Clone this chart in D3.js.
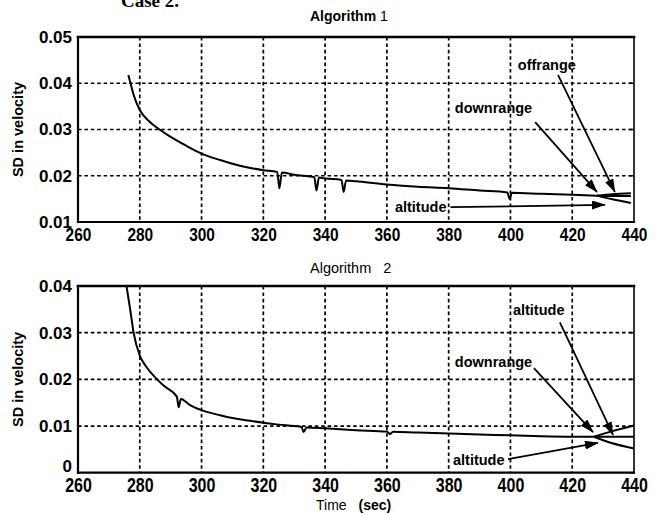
<!DOCTYPE html>
<html>
<head>
<meta charset="utf-8">
<script src="https://cdn.jsdelivr.net/npm/d3@7"></script>
<style>
  body { margin: 0; background: #fff; }
  svg { display: block; }
</style>
</head>
<body>
<svg id="chart" width="660" height="514"></svg>
<script>
// ---- tick values ----
const timeTicks = [260, 280, 300, 320, 340, 360, 380, 400, 420, 440];
const alg1Ticks = [0.01, 0.02, 0.03, 0.04, 0.05];
const alg2Ticks = [0, 0.01, 0.02, 0.03, 0.04];

// ---- Algorithm 1: common SD trace (sec, SD) ----
const alg1Time = [276.3, 277, 278, 280, 283, 286.4, 290, 295, 300, 306, 310, 315, 320,
  324.5, 325.2, 326, 330, 336.5, 337.2, 338, 340, 345.3, 346, 346.8, 350, 360, 370,
  380, 390, 399, 399.7, 400.5, 410, 420, 428];
const alg1Sd = [0.0418, 0.0400, 0.0375, 0.0342, 0.0318, 0.0300, 0.0284, 0.0265, 0.0248,
  0.0234, 0.0226, 0.0218, 0.0212, 0.0208, 0.0173, 0.0207, 0.0202, 0.0197, 0.0168,
  0.0196, 0.0194, 0.0191, 0.0165, 0.0190, 0.0188, 0.0181, 0.0176, 0.0173, 0.0168,
  0.0164, 0.0150, 0.0163, 0.0161, 0.0159, 0.0157];
// Algorithm 1: channels separating at the end
const alg1TailTime = [428, 433, 439];
const alg1Offrange = [0.0157, 0.0160, 0.0162];
const alg1Downrange = [0.0157, 0.0156, 0.0156];
const alg1Altitude = [0.0157, 0.0149, 0.0141];

// ---- Algorithm 2: common SD trace ----
const alg2Time = [275.7, 277, 278, 280, 282, 285.6, 288, 292, 292.6, 293.3, 296, 300, 306,
  310, 315, 320, 325, 330, 332.4, 333, 334, 340, 350, 360, 361, 362, 370, 380, 390,
  400, 410, 420, 427];
const alg2Sd = [0.0400, 0.0345, 0.0300, 0.0251, 0.0228, 0.0200, 0.0185, 0.0163, 0.0140,
  0.0158, 0.0146, 0.0134, 0.0123, 0.0117, 0.0112, 0.0107, 0.0103, 0.0100, 0.0098,
  0.0087, 0.0097, 0.0095, 0.0091, 0.0088, 0.0083, 0.0088, 0.0086, 0.0084, 0.0082,
  0.0080, 0.0078, 0.0077, 0.0077];
// Algorithm 2: channels separating at the end
const alg2TailTime = [427, 433, 440];
const alg2Upper = [0.0077, 0.0089, 0.0101];
const alg2Middle = [0.0077, 0.0077, 0.0077];
const alg2Lower = [0.0077, 0.0063, 0.0052];

// ---- annotation labels (text anchor and arrow, in data units) ----
const alg1Notes = [
  { label: "offrange",  tx: 402.4, tv: 0.0439, x1: 415.4, v1: 0.0418, x2: 433.8, v2: 0.0165 },
  { label: "downrange", tx: 382.0, tv: 0.0347, x1: 408.0, v1: 0.0316, x2: 428.0, v2: 0.0165 },
  { label: "altitude",  tx: 362.6, tv: 0.0132, x1: 380.6, v1: 0.0132, x2: 430.6, v2: 0.0137 }
];
const alg2Notes = [
  { label: "altitude",  tx: 400.8, tv: 0.0348, x1: 416.0, v1: 0.0322, x2: 433.2, v2: 0.0081 },
  { label: "downrange", tx: 382.0, tv: 0.0237, x1: 407.6, v1: 0.0224, x2: 426.7, v2: 0.0087 },
  { label: "altitude",  tx: 381.4, tv: 0.0027, x1: 399.2, v1: 0.0029, x2: 428.3, v2: 0.0064 }
];

const svg = d3.select("#chart");
const SANS = "'Liberation Sans', Arial, sans-serif";

// arrowhead
svg.append("defs").append("marker")
  .attr("id", "head")
  .attr("markerUnits", "userSpaceOnUse")
  .attr("markerWidth", 14).attr("markerHeight", 9)
  .attr("refX", 13).attr("refY", 4.5)
  .attr("orient", "auto")
  .append("path").attr("d", "M0,0 L14,4.5 L0,9 Z").attr("fill", "#000");

// heading running off the top edge
svg.append("text")
  .attr("x", 121).attr("y", 7)
  .attr("font-family", "'Liberation Serif', 'Times New Roman', serif")
  .attr("font-weight", "bold").attr("font-size", 19)
  .text("Case 2.");

function drawPanel(cfg) {
  const x = d3.scaleLinear().domain([260, 440]).range([78, 634]);
  const y = d3.scaleLinear().domain(cfg.domain).range([cfg.bottom, cfg.top]);
  const g = svg.append("g");

  // dotted grid
  g.append("g").selectAll("line").data(timeTicks.slice(1, -1)).join("line")
    .attr("x1", d => x(d)).attr("x2", d => x(d))
    .attr("y1", cfg.top).attr("y2", cfg.bottom)
    .attr("stroke", "#000").attr("stroke-width", 1.7)
    .attr("stroke-dasharray", "3.6,2.8");
  g.append("g").selectAll("line").data(cfg.ticks.slice(1, -1)).join("line")
    .attr("x1", x(260)).attr("x2", x(440))
    .attr("y1", d => y(d)).attr("y2", d => y(d))
    .attr("stroke", "#000").attr("stroke-width", 1.7)
    .attr("stroke-dasharray", "3.6,2.8");

  // axes
  const xAxis = g.append("g")
    .attr("transform", `translate(0,${cfg.bottom})`)
    .call(d3.axisBottom(x).tickValues(timeTicks).tickSize(0).tickPadding(cfg.xPad));
  xAxis.select(".domain").remove();
  xAxis.selectAll("text")
    .attr("font-family", SANS).attr("font-weight", "bold")
    .attr("font-size", cfg.xFont).attr("fill", "#000")
    .attr("transform", `scale(${cfg.xSquash},1)`);

  const yAxis = g.append("g")
    .attr("transform", `translate(${x(260)},0)`)
    .call(d3.axisLeft(y).tickValues(cfg.ticks).tickSize(0).tickPadding(6)
      .tickFormat(d => d === 0 ? "0" : d3.format(".2f")(d)));
  yAxis.select(".domain").remove();
  yAxis.selectAll("text")
    .attr("font-family", SANS).attr("font-weight", "bold")
    .attr("font-size", 17).attr("fill", "#000")
    .attr("dy", d => d === 0 ? "-0.05em" : "0.32em");

  // small inward ticks along the right edge
  g.append("g").selectAll("line").data(cfg.ticks).join("line")
    .attr("x1", x(440) - 5).attr("x2", x(440))
    .attr("y1", d => y(d)).attr("y2", d => y(d))
    .attr("stroke", "#000").attr("stroke-width", 1.5);

  // frame
  const fr = [
    [x(260), cfg.top, x(440), cfg.top, 2.6],
    [x(260), cfg.bottom, x(440), cfg.bottom, 2.2],
    [x(260), cfg.top, x(260), cfg.bottom, 2.2],
    [x(440), cfg.top, x(440), cfg.bottom, 1.6]
  ];
  g.append("g").selectAll("line").data(fr).join("line")
    .attr("x1", d => d[0]).attr("y1", d => d[1])
    .attr("x2", d => d[2]).attr("y2", d => d[3])
    .attr("stroke", "#000").attr("stroke-width", d => d[4])
    .attr("stroke-linecap", "square");

  // traces
  const line = d3.line().x(d => x(d[0])).y(d => y(d[1])).curve(d3.curveMonotoneX);
  const traces = [d3.zip(cfg.time, cfg.sd)]
    .concat(cfg.tails.map(t => d3.zip(cfg.tailTime, t)));
  g.append("g").selectAll("path").data(traces).join("path")
    .attr("d", line)
    .attr("fill", "none").attr("stroke", "#000")
    .attr("stroke-width", 2).attr("stroke-linejoin", "round");

  // annotations
  const notes = g.append("g");
  notes.selectAll("line").data(cfg.notes).join("line")
    .attr("x1", d => x(d.x1)).attr("y1", d => y(d.v1))
    .attr("x2", d => x(d.x2)).attr("y2", d => y(d.v2))
    .attr("stroke", "#000").attr("stroke-width", 1.8)
    .attr("marker-end", "url(#head)");
  notes.selectAll("text").data(cfg.notes).join("text")
    .attr("x", d => x(d.tx)).attr("y", d => y(d.tv))
    .attr("dy", "0.35em")
    .attr("font-family", SANS).attr("font-weight", "bold").attr("font-size", 14.5)
    .text(d => d.label);

  // y label
  svg.append("text")
    .attr("transform", `translate(23,${(cfg.top + cfg.bottom) / 2}) rotate(-90)`)
    .attr("text-anchor", "middle")
    .attr("font-family", SANS).attr("font-weight", "bold").attr("font-size", 14.5)
    .text("SD in velocity");

  return { x, y };
}

drawPanel({
  top: 37, bottom: 222, domain: [0.01, 0.05], ticks: alg1Ticks,
  time: alg1Time, sd: alg1Sd, tailTime: alg1TailTime,
  tails: [alg1Offrange, alg1Downrange, alg1Altitude],
  notes: alg1Notes, xPad: 6, xFont: 18, xSquash: 0.86
});
drawPanel({
  top: 286, bottom: 472.7, domain: [0, 0.04], ticks: alg2Ticks,
  time: alg2Time, sd: alg2Sd, tailTime: alg2TailTime,
  tails: [alg2Upper, alg2Middle, alg2Lower],
  notes: alg2Notes, xPad: 5, xFont: 20, xSquash: 0.8
});

// panel titles
const t1 = svg.append("text").attr("x", 310).attr("y", 21)
  .attr("font-family", SANS).attr("font-size", 14);
t1.append("tspan").attr("font-weight", "bold").text("Algorithm");
t1.append("tspan").attr("dx", 4).text("1");

svg.append("text").attr("x", 310).attr("y", 273)
  .attr("font-family", SANS).attr("font-size", 14.5)
  .attr("xml:space", "preserve")
  .text("Algorithm   2");

// time axis title
const tt = svg.append("text").attr("x", 316).attr("y", 510)
  .attr("font-family", SANS).attr("font-size", 14);
tt.append("tspan").text("Time");
tt.append("tspan").attr("dx", 12).attr("font-weight", "bold").text("(sec)");
</script>
</body>
</html>
